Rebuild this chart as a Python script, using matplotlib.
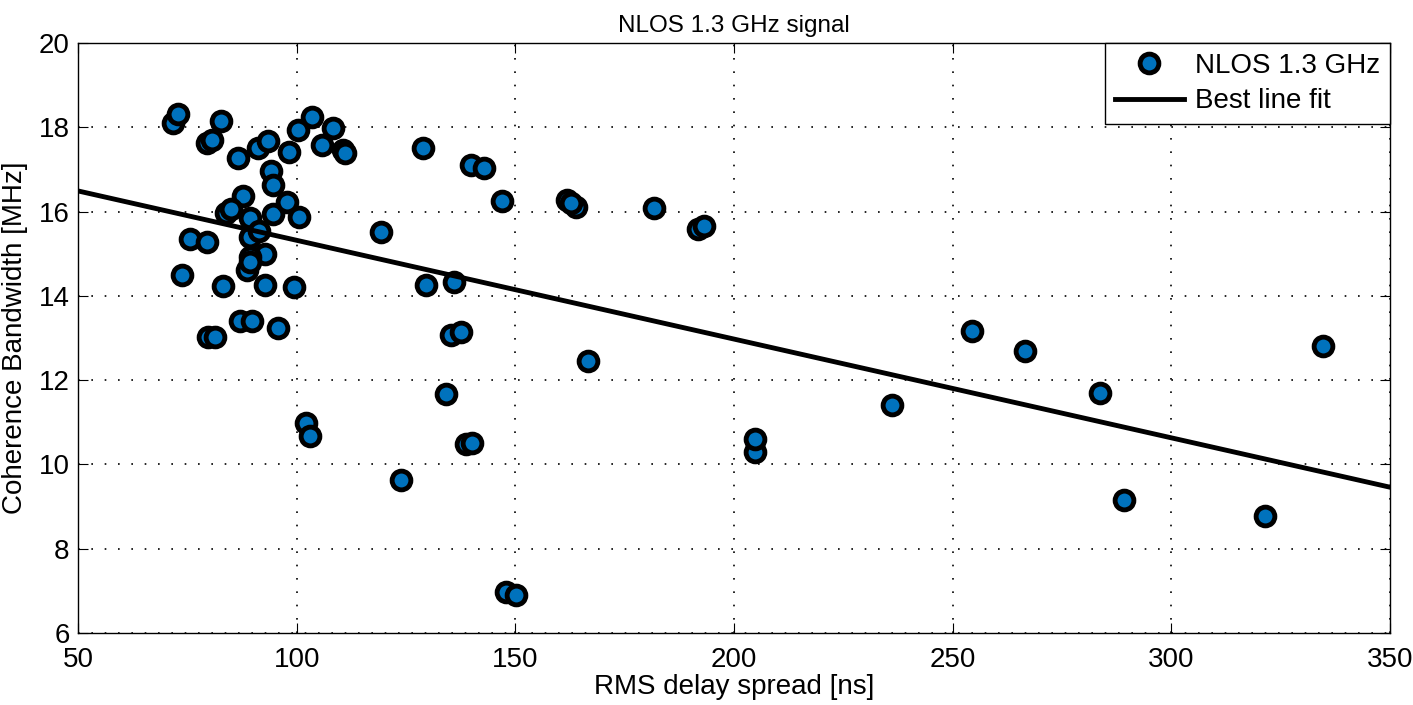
import numpy as np
import matplotlib
matplotlib.use('Agg')
import matplotlib.pyplot as plt

plt.rcParams['font.family'] = ['Liberation Sans', 'DejaVu Sans']

# RMS delay spread [ns] and coherence bandwidth [MHz]
rms_delay = [71.8, 72.9, 82.7, 79.6, 80.6, 86.7, 91.2, 93.5, 98.3, 100.4,
             103.6, 108.2, 105.9, 110.5, 111.1, 94.1, 94.7, 87.8, 83.8, 85.0,
             89.3, 94.7, 97.7, 100.5, 75.5, 79.6, 89.3, 91.5, 92.8, 89.3,
             88.7, 89.3, 73.7, 83.2, 92.8, 99.5, 87.0, 89.7, 95.8, 79.8,
             81.3, 102.1, 103.1, 128.8, 139.9, 142.8, 146.9, 161.8, 163.9, 162.8,
             119.3, 129.5, 136.0, 134.2, 135.3, 137.6, 123.9, 138.7, 140.0, 147.9,
             150.2, 166.6, 181.7, 191.8, 193.2, 204.8, 204.8, 236.1, 254.4, 266.6,
             283.7, 289.2, 321.4, 334.7]
coh_bw = [18.10, 18.32, 18.15, 17.63, 17.71, 17.26, 17.50, 17.68, 17.42, 17.94,
          18.24, 17.98, 17.58, 17.46, 17.38, 16.96, 16.63, 16.37, 15.97, 16.05,
          15.85, 15.94, 16.23, 15.86, 15.34, 15.28, 15.40, 15.55, 14.99, 14.93,
          14.61, 14.81, 14.50, 14.24, 14.26, 14.20, 13.40, 13.41, 13.24, 13.03,
          13.03, 10.98, 10.67, 17.52, 17.10, 17.03, 16.26, 16.27, 16.12, 16.20,
          15.51, 14.26, 14.32, 11.67, 13.07, 13.14, 9.63, 10.48, 10.51, 6.97,
          6.90, 12.45, 16.08, 15.59, 15.66, 10.30, 10.60, 11.41, 13.17, 12.69,
          11.69, 9.16, 8.78, 12.81]

# best line fit end points
fit_x = [50, 350]
fit_y = [16.49, 9.46]

fig = plt.figure(figsize=(14.13, 7.05), dpi=100)
ax = fig.add_axes([0.0552, 0.1021, 0.9285, 0.8369])

ax.plot(rms_delay, coh_bw, 'o', color='#0072BD', markeredgecolor='k',
        markersize=13.5, markeredgewidth=3.5, linestyle='none', label='NLOS 1.3 GHz')
ax.plot(fit_x, fit_y, 'k-', linewidth=3.5, label='Best line fit')

ax.set_xlim(50, 350)
ax.set_ylim(6, 20)
ax.set_xticks(np.arange(50, 351, 50))
ax.set_yticks(np.arange(6, 21, 2))
ax.grid(True, linestyle=(0, (1, 7)), color='k', linewidth=1.2)
ax.tick_params(direction='in', top=True, right=True, labelsize=20, length=7)
ax.tick_params(axis='x', pad=10)
ax.tick_params(axis='y', pad=6)
for s in ax.spines.values():
    s.set_linewidth(1)

ax.set_xlabel('RMS delay spread [ns]', fontsize=20, labelpad=1)
ax.set_ylabel('Coherence Bandwidth [MHz]', fontsize=20, labelpad=8)
ax.set_title('NLOS 1.3 GHz signal', fontsize=17.5, pad=8)

leg = ax.legend(loc='upper right', borderaxespad=0, fancybox=False,
                edgecolor='k', fontsize=20, handlelength=2.5, framealpha=1,
                borderpad=0.35, labelspacing=0.35, handletextpad=0.4)
leg.get_frame().set_linewidth(1)

fig.savefig('out.png', dpi=100)
